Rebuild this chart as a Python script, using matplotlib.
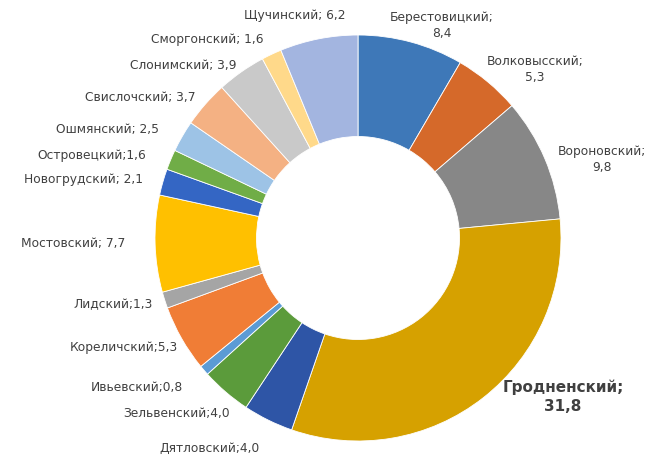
import matplotlib
matplotlib.use("Agg")
import matplotlib.pyplot as plt

districts = ["Берестовицкий", "Волковысский", "Вороновский", "Гродненский", "Дятловский",
             "Зельвенский", "Ивьевский", "Кореличский", "Лидский", "Мостовский",
             "Новогрудский", "Островецкий", "Ошмянский", "Свислочский", "Слонимский",
             "Сморгонский", "Щучинский"]
values = [8.4, 5.3, 9.8, 31.8, 4.0, 4.0, 0.8, 5.3, 1.3, 7.7, 2.1, 1.6, 2.5, 3.7, 3.9, 1.6, 6.2]
value_labels = ["8,4", "5,3", "9,8", "31,8", "4,0", "4,0", "0,8", "5,3", "1,3", "7,7",
                "2,1", "1,6", "2,5", "3,7", "3,9", "1,6", "6,2"]

colors = ["#3E78B8", "#D5692A", "#878787", "#D6A100", "#2E55A6", "#5B9B3B",
          "#5B9BD5", "#F07D36", "#A5A5A5", "#FFC000", "#3466C4", "#70AD47",
          "#9DC3E6", "#F4B183", "#C9C9C9", "#FFD98A", "#A3B5E0"]

# label layout: pixel coords in figure (y from top) and separator after ';'
label_pos = [(442, 26, "\n"), (535, 70, "\n"), (602, 159, "\n"), (563, 397, "\n"),
             (210, 448, ""), (177, 413, ""), (137, 387, ""), (124, 348, ""),
             (113, 305, ""), (73, 243, " "), (83, 180, " "), (92, 155, ""),
             (107, 130, " "), (140, 98, " "), (183, 66, " "), (207, 40, " "), (295, 15, " ")]

W, H = 660, 458
fig = plt.figure(figsize=(W / 100, H / 100), dpi=100)
ax = fig.add_axes([0, 0, 1, 1])

cx, cy, R = 358, H - 238, 203
ax.pie(values, colors=colors, startangle=90, counterclock=False,
       center=(cx, cy), radius=R, frame=True,
       wedgeprops=dict(width=R * 0.5, edgecolor="white", linewidth=0.6))
ax.set_xlim(0, W)
ax.set_ylim(0, H)
ax.set_aspect("equal")
ax.axis("off")

for name, val, (x, y, sep) in zip(districts, value_labels, label_pos):
    big = name == "Гродненский"
    txt = f"{name};{sep}{val}"
    ax.text(x, H - y, txt, ha="center", va="center", ma="center",
            fontsize=11 if big else 8.8, color="#404040",
            fontweight="bold" if big else "normal",
            family="DejaVu Sans", linespacing=1.3)

fig.savefig("out.png", dpi=100)
